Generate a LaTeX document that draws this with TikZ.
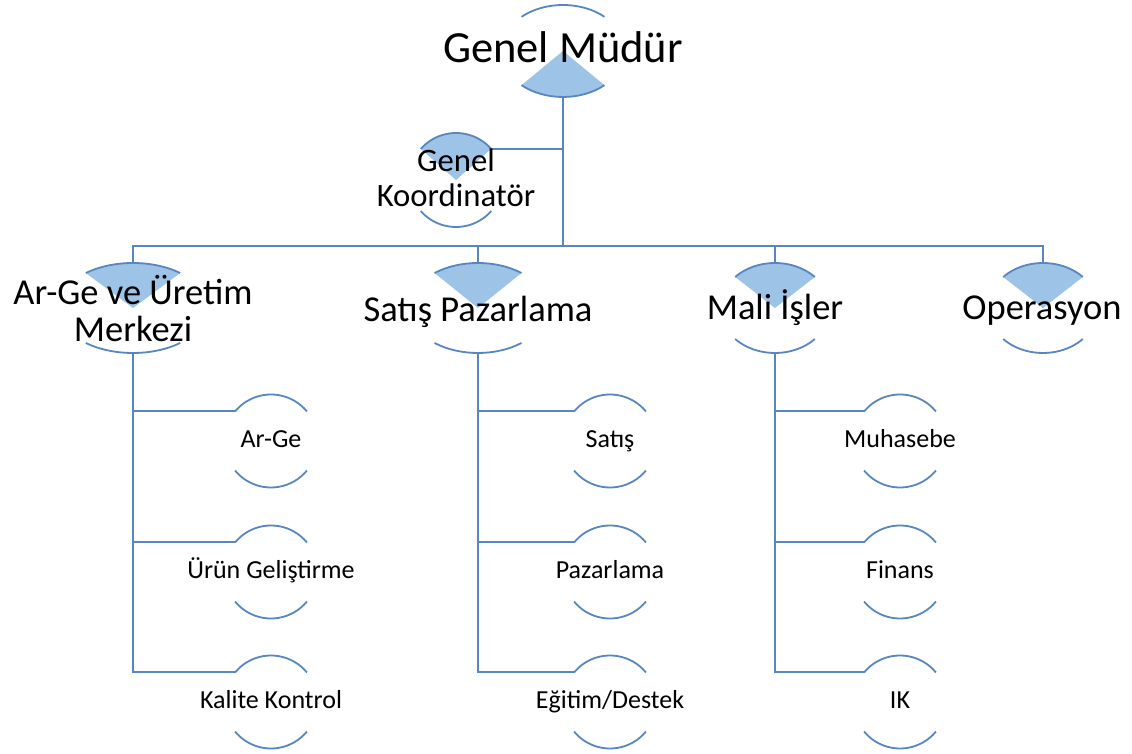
\documentclass[tikz,border=0pt]{standalone}
\usepackage{fontspec}
\setmainfont{Carlito}
\usetikzlibrary{calc}

\definecolor{arcblue}{RGB}{88,134,190}
\definecolor{fanblue}{RGB}{157,195,230}

\tikzset{
  ringline/.style={draw=arcblue, line width=1.8pt},
  link/.style={draw=arcblue, line width=2pt},
  toplabel/.style={font=\fontsize{44.5}{46}\selectfont, inner sep=0pt},
  coordlabel/.style={font=\fontsize{32.7}{35}\selectfont, inner sep=0pt, align=center},
  midlabel/.style={font=\fontsize{36.5}{37}\selectfont, inner sep=0pt, align=center},
  leaflabel/.style={font=\fontsize{26}{28}\selectfont, inner sep=0pt, anchor=base}
}

% #1 centre name, #2 x radius, #3 y radius, #4 half angle of each arc
\newcommand{\halfring}[4]{%
  \coordinate (#1-n) at ($(#1)+(0,#3)$);
  \coordinate (#1-s) at ($(#1)+(0,-#3)$);
  \coordinate (#1-nw) at ($(#1)+({90+#4}:#2pt and #3pt)$);
  \coordinate (#1-ne) at ($(#1)+({90-#4}:#2pt and #3pt)$);
  \coordinate (#1-sw) at ($(#1)+({270-#4}:#2pt and #3pt)$);
  \draw[ringline] (#1-nw) arc[start angle={90+#4}, end angle={90-#4}, x radius=#2pt, y radius=#3pt];
  \draw[ringline] (#1-sw) arc[start angle={270-#4}, end angle={270+#4}, x radius=#2pt, y radius=#3pt];
}
% #1 centre name, #2 x radius, #3 y radius, #4 middle angle, #5 half angle
\newcommand{\fanfill}[5]{%
  \fill[fanblue] (#1) -- ($(#1)+({#4-#5}:#2pt and #3pt)$)
    arc[start angle={#4-#5}, end angle={#4+#5}, x radius=#2pt, y radius=#3pt] -- cycle;
}

\begin{document}
\begin{tikzpicture}[x=1pt,y=1pt]
\fill[white] (0,0) rectangle (1132,754);
\useasboundingbox (0,0) rectangle (1132,754);

% centres
\coordinate (gm) at (563,703);
\coordinate (gk) at (456,574);
\coordinate (merkez) at (133,446);
\coordinate (satpaz) at (478,446);
\coordinate (mali) at (775,446);
\coordinate (ops) at (1043,446);
\coordinate (argech) at (271,313);
\coordinate (urun) at (271,182);
\coordinate (kalite) at (271,52);
\coordinate (satis) at (610,313);
\coordinate (pazar) at (610,182);
\coordinate (egitim) at (610,52);
\coordinate (muhasebe) at (900,313);
\coordinate (finans) at (900,182);
\coordinate (ik) at (900,52);
\coordinate (bar) at (0,508);

% filled fans
\fanfill{gm}{62}{46}{270}{42}
\fanfill{gk}{47}{47}{90}{48.5}
\fanfill{merkez}{75}{45}{90}{39}
\fanfill{satpaz}{69}{45}{90}{39}
\fanfill{mali}{55}{45}{90}{46.4}
\fanfill{ops}{55}{45}{90}{46.4}

% arcs
\halfring{gm}{62}{46}{42}
\halfring{gk}{47}{47}{48.5}
\halfring{merkez}{75}{45}{39}
\halfring{satpaz}{69}{45}{39}
\halfring{mali}{55}{45}{46.4}
\halfring{ops}{55}{45}{46.4}
\foreach \n in {argech,urun,kalite,satis,pazar,egitim,muhasebe,finans,ik}
  {\halfring{\n}{46.5}{46.5}{50.6}}

% connectors
\draw[link] (gm-s) -- (gm-s |- bar);
\draw[link] (gk-ne) -- (gk-ne -| gm-s);
\draw[link] (merkez-n) -- (merkez-n |- bar) -- (ops-n |- bar) -- (ops-n);
\draw[link] (satpaz-n) -- (satpaz-n |- bar);
\draw[link] (mali-n) -- (mali-n |- bar);

\draw[link] (merkez-s) |- (kalite-nw);
\draw[link] (merkez-s |- argech-nw) -- (argech-nw);
\draw[link] (merkez-s |- urun-nw) -- (urun-nw);
\draw[link] (satpaz-s) |- (egitim-nw);
\draw[link] (satpaz-s |- satis-nw) -- (satis-nw);
\draw[link] (satpaz-s |- pazar-nw) -- (pazar-nw);
\draw[link] (mali-s) |- (ik-nw);
\draw[link] (mali-s |- muhasebe-nw) -- (muhasebe-nw);
\draw[link] (mali-s |- finans-nw) -- (finans-nw);

% labels
\node[toplabel, anchor=base] (gmtext) at (563,691) {Genel Müdür};
\node[coordlabel] (gktext) at (456,576) {Genel\\Koordinatör};
\node[midlabel] (merkeztext) at (133,445) {Ar-Ge ve Üretim\\Merkezi};
\node[midlabel, anchor=base] (satpaztext) at (478,432) {Satış Pazarlama};
\node[midlabel, anchor=base] (malitext) at (775,434) {Mali İşler};
\node[midlabel, anchor=base] (opstext) at (1042,434) {Operasyon};

\node[leaflabel] (argechtext) at ($(argech)+(0,-7)$) {Ar-Ge};
\node[leaflabel] (uruntext) at ($(urun)+(0,-7)$) {Ürün Geliştirme};
\node[leaflabel] (kalitetext) at ($(kalite)+(0,-7)$) {Kalite Kontrol};
\node[leaflabel] (satistext) at ($(satis)+(0,-7)$) {Satış};
\node[leaflabel] (pazartext) at ($(pazar)+(0,-7)$) {Pazarlama};
\node[leaflabel] (egitimtext) at ($(egitim)+(0,-7)$) {Eğitim/Destek};
\node[leaflabel] (muhasebetext) at ($(muhasebe)+(0,-7)$) {Muhasebe};
\node[leaflabel] (finanstext) at ($(finans)+(0,-7)$) {Finans};
\node[leaflabel] (iktext) at ($(ik)+(0,-7)$) {IK};
\end{tikzpicture}
\end{document}
